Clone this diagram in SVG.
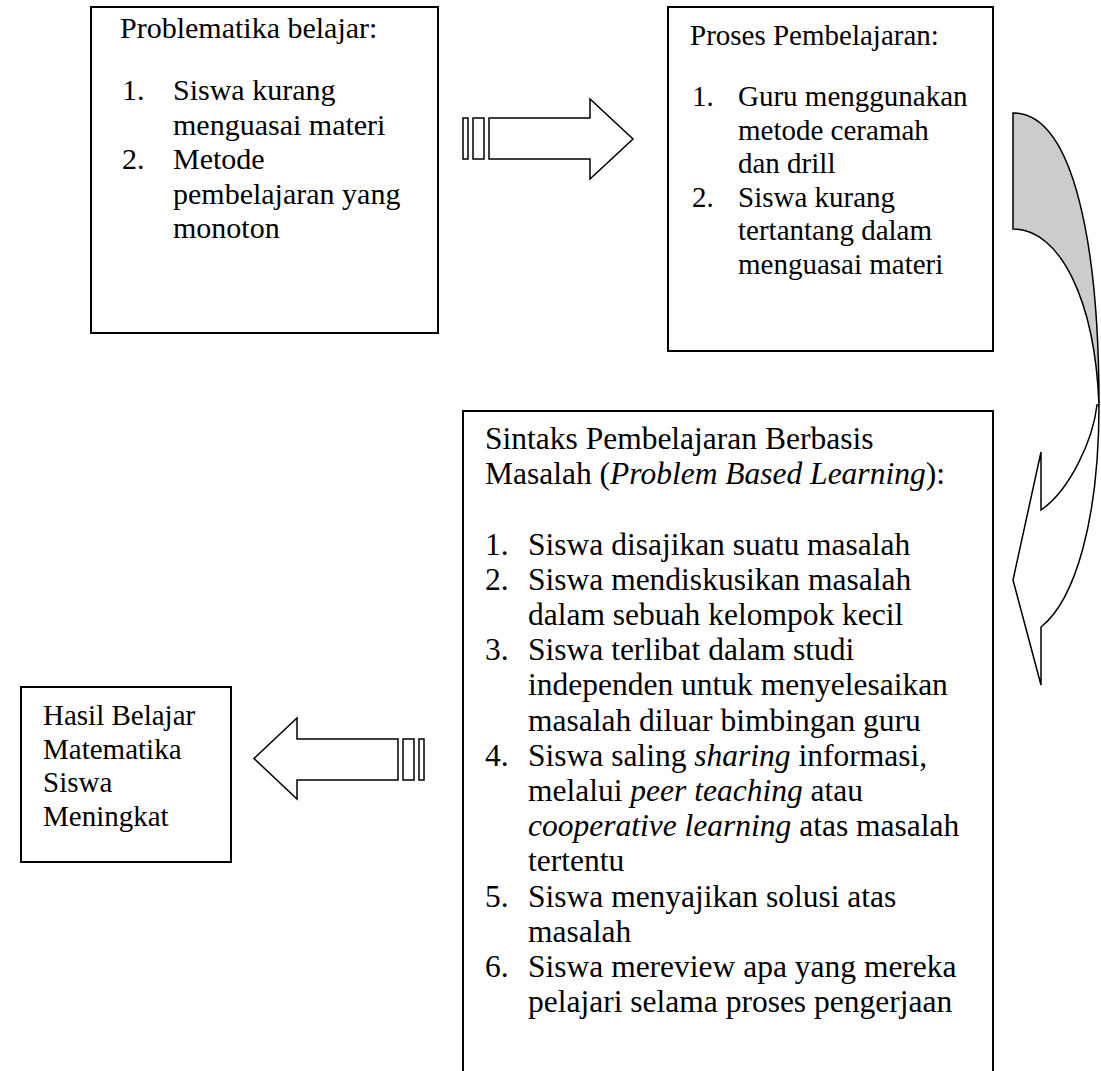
<svg xmlns="http://www.w3.org/2000/svg" width="1101" height="1071" viewBox="0 0 1101 1071">
<style>
.box{fill:#fff;stroke:#000;stroke-width:2}
.t{font-family:"Liberation Serif","Times New Roman",serif;fill:#000}
.b1{font-size:30px}
.b2{font-size:29px}
.b3{font-size:31.5px}
.i{font-style:italic}
.sh{stroke:#000;stroke-width:1.5;stroke-linejoin:miter;fill:#fff}
</style>
<rect width="1101" height="1071" fill="#fff"/>
<g id="node-problematika" class="t b1">
<rect class="box" x="91" y="7" width="347" height="326"/>
<text x="120" y="38">Problematika belajar:</text>
<text x="122" y="100">1.</text><text x="173" y="100">Siswa kurang</text>
<text x="173" y="134.5">menguasai materi</text>
<text x="122" y="169">2.</text><text x="173" y="169">Metode</text>
<text x="173" y="203.5">pembelajaran yang</text>
<text x="173" y="238">monoton</text>
</g>
<g id="node-proses" class="t b2">
<rect class="box" x="668" y="7" width="325" height="344"/>
<text x="690" y="45">Proses Pembelajaran:</text>
<text x="692" y="106">1.</text><text x="738" y="106">Guru menggunakan</text>
<text x="738" y="139.5">metode ceramah</text>
<text x="738" y="173">dan drill</text>
<text x="692" y="206.5">2.</text><text x="738" y="206.5">Siswa kurang</text>
<text x="738" y="240">tertantang dalam</text>
<text x="738" y="273.5">menguasai materi</text>
</g>
<g id="node-sintaks" class="t b3">
<rect class="box" x="463" y="411" width="530" height="680"/>
<text x="485" y="449">Sintaks Pembelajaran Berbasis</text>
<text x="485" y="484.2">Masalah (<tspan class="i">Problem Based Learning</tspan>):</text>
<text x="485" y="554.6">1.</text><text x="528" y="554.6">Siswa disajikan suatu masalah</text>
<text x="485" y="589.8">2.</text><text x="528" y="589.8">Siswa mendiskusikan masalah</text>
<text x="528" y="625">dalam sebuah kelompok kecil</text>
<text x="485" y="660.2">3.</text><text x="528" y="660.2">Siswa terlibat dalam studi</text>
<text x="528" y="695.4">independen untuk menyelesaikan</text>
<text x="528" y="730.6">masalah diluar bimbingan guru</text>
<text x="485" y="765.8">4.</text><text x="528" y="765.8">Siswa saling <tspan class="i">sharing</tspan> informasi,</text>
<text x="528" y="801">melalui <tspan class="i">peer teaching</tspan> atau</text>
<text x="528" y="836.2"><tspan class="i">cooperative learning</tspan> atas masalah</text>
<text x="528" y="871.4">tertentu</text>
<text x="485" y="906.6">5.</text><text x="528" y="906.6">Siswa menyajikan solusi atas</text>
<text x="528" y="941.8">masalah</text>
<text x="485" y="977">6.</text><text x="528" y="977">Siswa mereview apa yang mereka</text>
<text x="528" y="1012.2">pelajari selama proses pengerjaan</text>
</g>
<g id="node-hasil" class="t b2">
<rect class="box" x="21" y="687" width="210" height="175"/>
<text x="43" y="725">Hasil Belajar</text>
<text x="43" y="758.5">Matematika</text>
<text x="43" y="792">Siswa</text>
<text x="43" y="825.5">Meningkat</text>
</g>
<g id="connectors">
<g id="arrow-right">
<rect class="sh" x="463" y="118" width="5" height="41"/>
<rect class="sh" x="473" y="118" width="11" height="41"/>
<polygon class="sh" points="489,118 590,118 590,99 633,139 590,179 590,159 489,159"/>
</g>
<g id="arrow-left">
<rect class="sh" x="419" y="739" width="5" height="41"/>
<rect class="sh" x="403" y="739" width="11" height="41"/>
<polygon class="sh" points="398,739 297,739 297,718 254,758.5 297,799 297,780 398,780"/>
</g>
<g id="arrow-curved">
<path class="sh" style="fill:#cccccc" d="M1013,113 C1075,113 1099,250 1099,405 C1095,300 1060,229 1013,229 Z"/>
<path class="sh" d="M1097,405 C1093,440 1070,490 1041,510 L1041,452 L1013,580 L1041,685 L1041,627 C1075,600 1099,520 1099,405 Z"/>
</g>
</g>
</svg>
